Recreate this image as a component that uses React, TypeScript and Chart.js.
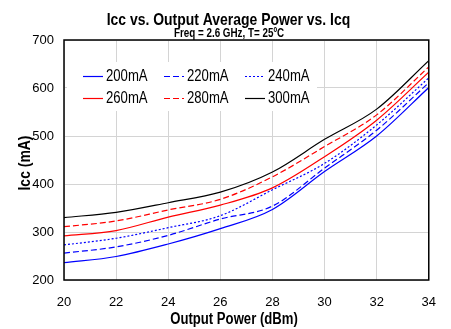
import React, { useEffect, useRef } from 'react';
import { Chart, registerables } from 'chart.js';
Chart.register(...registerables);

// ---- data ----
const outputPower = [20, 22, 24, 26, 28, 30, 32, 34];
const seriesNames = ['200mA', '220mA', '240mA', '260mA', '280mA', '300mA'];
const icc200 = [236, 249, 275, 307, 347, 426, 500, 601];
const icc220 = [256, 269, 293, 327, 354, 433, 512, 611];
const icc240 = [273, 287, 309, 334, 388, 443, 523, 621];
const icc260 = [292, 303, 331, 356, 392, 457, 533, 633];
const icc280 = [311, 323, 346, 368, 415, 478, 544, 644];
const icc300 = [330, 341, 361, 383, 425, 493, 556, 657];
const xTickValues = [20, 22, 24, 26, 28, 30, 32, 34];
const yTickValues = [200, 300, 400, 500, 600, 700];
const titleText = 'Icc vs. Output Average Power vs. Icq';
const subtitleText = 'Freq = 2.6 GHz, T= 25ºC';
const xAxisTitle = 'Output Power (dBm)';
const yAxisTitle = 'Icc (mA)';

const FONT = "'Liberation Sans', Arial, sans-serif";
const NARROW = 0.82;

const seriesValues = [icc200, icc220, icc240, icc260, icc280, icc300];
const seriesColors = ['#0000ff', '#0000ff', '#0000ff', '#ff0000', '#ff0000', '#000000'];
const seriesDash: number[][] = [[], [6, 3], [2, 2], [], [6, 3], []];

function narrowText(ctx: CanvasRenderingContext2D, text: string, x: number, y: number) {
  ctx.save();
  ctx.translate(x, y);
  ctx.scale(NARROW, 1);
  ctx.fillText(text, 0, 0);
  ctx.restore();
}

const overlayPlugin = {
  id: 'overlay',
  afterDatasetsDraw(chart: any) {
    const { ctx, chartArea: a } = chart;
    ctx.save();
    // frame
    ctx.strokeStyle = '#000';
    ctx.lineWidth = 1.5;
    ctx.setLineDash([]);
    ctx.strokeRect(a.left, a.top, a.right - a.left, a.bottom - a.top);
    // legend
    const bx = a.left + 3, by = a.top + 22, bw = 250, bh = 49;
    ctx.fillStyle = '#ffffff';
    ctx.fillRect(bx, by, bw, bh);
    ctx.font = `16px ${FONT}`;
    ctx.textBaseline = 'middle';
    ctx.textAlign = 'left';
    const colX = [a.left + 19, a.left + 100, a.left + 181];
    const rowY = [a.top + 36, a.top + 58];
    chart.data.datasets.forEach((ds: any, i: number) => {
      const cx = colX[i % 3];
      const cy = rowY[Math.floor(i / 3)];
      ctx.strokeStyle = ds.borderColor;
      ctx.lineWidth = 1.2;
      ctx.setLineDash(ds.borderDash || []);
      ctx.beginPath();
      ctx.moveTo(cx, cy + 0.5);
      ctx.lineTo(cx + 20, cy + 0.5);
      ctx.stroke();
      ctx.setLineDash([]);
      ctx.fillStyle = '#000';
      narrowText(ctx, ds.label, cx + 23, cy + 1);
    });
    ctx.restore();
  },
  afterDraw(chart: any) {
    const { ctx } = chart;
    ctx.save();
    ctx.fillStyle = '#000';
    ctx.textAlign = 'center';
    ctx.textBaseline = 'alphabetic';
    ctx.font = `bold 17px ${FONT}`;
    narrowText(ctx, titleText, 228.5, 24.5);
    ctx.font = `bold 12px ${FONT}`;
    narrowText(ctx, subtitleText, 229, 37);
    ctx.font = `bold 16px ${FONT}`;
    narrowText(ctx, xAxisTitle, 234, 323.5);
    ctx.translate(30, 163);
    ctx.rotate(-Math.PI / 2);
    ctx.font = `bold 17px ${FONT}`;
    narrowText(ctx, yAxisTitle, 0, 0);
    ctx.restore();
  },
};

export default function App() {
  const ref = useRef<HTMLCanvasElement>(null);
  useEffect(() => {
    if (!ref.current) return;
    const chart = new Chart(ref.current, {
      type: 'line',
      data: {
        datasets: seriesNames.map((name, i) => ({
          label: name,
          data: outputPower.map((x, j) => ({ x, y: seriesValues[i][j] })),
          borderColor: seriesColors[i],
          backgroundColor: seriesColors[i],
          borderDash: seriesDash[i],
          borderWidth: 1.2,
          pointRadius: 0,
          cubicInterpolationMode: 'monotone' as const,
          fill: false,
        })),
      },
      options: {
        responsive: false,
        animation: false,
        devicePixelRatio: 1,
        layout: { padding: { left: 0, top: 40, right: 15, bottom: 0 } },
        plugins: { legend: { display: false }, title: { display: false }, tooltip: { enabled: false } },
        scales: {
          x: {
            type: 'linear',
            min: 20,
            max: 34,
            afterFit: (s: any) => { s.height = 49; },
            afterBuildTicks: (s: any) => { s.ticks = xTickValues.map((v) => ({ value: v })); },
            grid: { color: '#d4d4d4', lineWidth: 1, drawTicks: false },
            border: { display: false },
            ticks: { color: '#000', font: { family: FONT, size: 13 }, padding: 15, maxRotation: 0 },
          },
          y: {
            type: 'linear',
            min: 200,
            max: 700,
            afterFit: (s: any) => { s.width = 64; },
            afterBuildTicks: (s: any) => { s.ticks = yTickValues.map((v) => ({ value: v })); },
            grid: { color: '#d4d4d4', lineWidth: 1, drawTicks: false },
            border: { display: false },
            ticks: { color: '#000', font: { family: FONT, size: 13 }, padding: 10 },
          },
        },
      },
      plugins: [overlayPlugin],
    });
    return () => chart.destroy();
  }, []);
  return (
    <div style={{ position: 'absolute', left: 0, top: 0, width: 451, height: 329, background: '#fff' }}>
      <canvas ref={ref} width={451} height={329} />
    </div>
  );
}
